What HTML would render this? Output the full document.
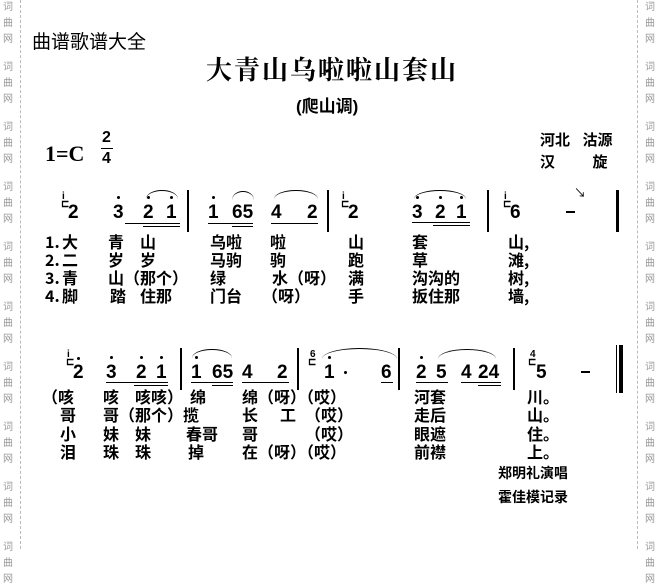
<!DOCTYPE html>
<html><head><meta charset="utf-8"><style>
body{margin:0;width:658px;height:549px;background:#fff;position:relative;overflow:hidden;font-family:"Liberation Sans","Noto Sans CJK SC",sans-serif;color:#000}
.a{position:absolute;white-space:nowrap;line-height:1}
.wm{position:absolute;font-size:10px;color:#999;line-height:16px;width:12px;text-align:center}
.dl{position:absolute;top:0;height:549px;border-left:1px dashed #bbb}
.n{position:absolute;font-weight:bold;font-size:19px;line-height:1;font-family:"Liberation Sans",sans-serif}
.g{position:absolute;font-weight:bold;font-size:10px;line-height:1}
.d{position:absolute;width:3px;height:3px;background:#000;border-radius:50%}
.bar{position:absolute;width:2px;background:#000}
.u{position:absolute;height:1px;background:#000}
.l{position:absolute;font-size:16px;line-height:1;white-space:nowrap;font-family:"Noto Sans CJK SC",sans-serif;font-weight:bold}
.arc{position:absolute;border-top:1.5px solid #000;border-radius:50%/100% 100% 0 0}
</style></head><body>
<div class="dl" style="left:20px"></div><div class="dl" style="left:637px"></div>
<div class="wm" style="left:2px;top:0">词<br>曲<br>网</div>
<div class="wm" style="left:2px;top:60px">词<br>曲<br>网</div>
<div class="wm" style="left:2px;top:120px">词<br>曲<br>网</div>
<div class="wm" style="left:2px;top:180px">词<br>曲<br>网</div>
<div class="wm" style="left:2px;top:240px">词<br>曲<br>网</div>
<div class="wm" style="left:2px;top:300px">词<br>曲<br>网</div>
<div class="wm" style="left:2px;top:360px">词<br>曲<br>网</div>
<div class="wm" style="left:2px;top:420px">词<br>曲<br>网</div>
<div class="wm" style="left:2px;top:480px">词<br>曲<br>网</div>
<div class="wm" style="left:2px;top:540px">词<br>曲<br>网</div>
<div class="wm" style="left:644px;top:0">词<br>曲<br>网</div>
<div class="wm" style="left:644px;top:60px">词<br>曲<br>网</div>
<div class="wm" style="left:644px;top:120px">词<br>曲<br>网</div>
<div class="wm" style="left:644px;top:180px">词<br>曲<br>网</div>
<div class="wm" style="left:644px;top:240px">词<br>曲<br>网</div>
<div class="wm" style="left:644px;top:300px">词<br>曲<br>网</div>
<div class="wm" style="left:644px;top:360px">词<br>曲<br>网</div>
<div class="wm" style="left:644px;top:420px">词<br>曲<br>网</div>
<div class="wm" style="left:644px;top:480px">词<br>曲<br>网</div>
<div class="wm" style="left:644px;top:540px">词<br>曲<br>网</div>

<div class="a" style="left:32px;top:33px;font-size:19px">曲谱歌谱大全</div>
<div class="a" style="left:206px;top:56px;font-size:26px;letter-spacing:2px;font-family:'Noto Serif CJK SC',serif;font-weight:bold">大青山乌啦啦山套山</div>
<div class="a" style="left:296px;top:98px;font-size:17px;font-weight:bold">(爬山调)</div>
<div class="a" style="left:45px;top:143px;font-size:22px;font-weight:bold;font-family:'Liberation Serif',serif">1=C</div>
<div class="n" style="left:102px;top:130px;font-size:16px">2</div>
<div class="u" style="left:101px;top:148px;width:12px"></div>
<div class="n" style="left:102px;top:151px;font-size:16px">4</div>
<div class="a" style="left:540px;top:133px;font-size:15px;font-weight:bold">河北&nbsp;&nbsp;&nbsp;沽源</div>
<div class="a" style="left:540px;top:155px;font-size:15px;font-weight:bold">汉&nbsp;&nbsp;&nbsp;&nbsp;&nbsp;&nbsp;&nbsp;&nbsp;&nbsp;旋</div>

<!-- row1 notes -->
<div class="g" style="left:62px;top:192px">i</div><div class="g" style="left:61px;top:200px">⊏</div>
<div class="n" style="left:68px;top:203px">2</div>
<div class="n" style="left:113px;top:203px">3</div><div class="d" style="left:117px;top:196px"></div>
<div class="n" style="left:143px;top:203px">2</div><div class="d" style="left:147px;top:196px"></div>
<div class="n" style="left:166px;top:203px">1</div><div class="d" style="left:170px;top:196px"></div>
<div class="arc" style="left:146px;top:190px;width:32px;height:8px"></div>
<div class="u" style="left:125px;top:223px;width:55px"></div><div class="u" style="left:143px;top:226px;width:37px"></div>
<div class="bar" style="left:187px;top:190px;height:42px"></div>
<div class="n" style="left:208px;top:203px">1</div><div class="d" style="left:212px;top:196px"></div>
<div class="n" style="left:232px;top:203px">65</div>
<div class="arc" style="left:232px;top:191px;width:22px;height:8px"></div>
<div class="u" style="left:208px;top:223px;width:45px"></div><div class="u" style="left:232px;top:226px;width:21px"></div>
<div class="n" style="left:271px;top:203px">4</div><div class="n" style="left:307px;top:203px">2</div>
<div class="arc" style="left:274px;top:190px;width:44px;height:8px"></div>
<div class="u" style="left:271px;top:223px;width:47px"></div>
<div class="bar" style="left:327px;top:190px;height:42px"></div>
<div class="g" style="left:342px;top:192px">i</div><div class="g" style="left:341px;top:200px">⊏</div>
<div class="n" style="left:348px;top:203px">2</div>
<div class="n" style="left:412px;top:203px">3</div><div class="d" style="left:416px;top:196px"></div>
<div class="n" style="left:435px;top:203px">2</div><div class="d" style="left:439px;top:196px"></div>
<div class="n" style="left:456px;top:203px">1</div><div class="d" style="left:460px;top:196px"></div>
<div class="arc" style="left:414px;top:190px;width:52px;height:8px"></div>
<div class="u" style="left:412px;top:222px;width:58px"></div><div class="u" style="left:433px;top:225px;width:37px"></div>
<div class="bar" style="left:487px;top:190px;height:42px"></div>
<div class="g" style="left:504px;top:192px">i</div><div class="g" style="left:503px;top:200px">⊏</div>
<div class="n" style="left:510px;top:203px">6</div>
<div class="u" style="left:566px;top:211px;width:9px;height:2px"></div>
<div class="a" style="left:574px;top:187px;font-size:12px">↘</div>
<div class="bar" style="left:616px;top:190px;height:42px;width:3px"></div>

<!-- row1 lyrics -->
<div class="l" style="left:45px;top:233px">1.</div><div class="l" style="left:62px;top:233px">大</div><div class="l" style="left:108px;top:233px">青</div><div class="l" style="left:140px;top:233px">山</div><div class="l" style="left:210px;top:233px">乌啦</div><div class="l" style="left:270px;top:233px">啦</div><div class="l" style="left:348px;top:233px">山</div><div class="l" style="left:412px;top:233px">套</div><div class="l" style="left:508px;top:233px">山,</div>
<div class="l" style="left:45px;top:251px">2.</div><div class="l" style="left:62px;top:251px">二</div><div class="l" style="left:108px;top:251px">岁</div><div class="l" style="left:140px;top:251px">岁</div><div class="l" style="left:210px;top:251px">马驹</div><div class="l" style="left:270px;top:251px">驹</div><div class="l" style="left:348px;top:251px">跑</div><div class="l" style="left:412px;top:251px">草</div><div class="l" style="left:508px;top:251px">滩,</div>
<div class="l" style="left:45px;top:269px">3.</div><div class="l" style="left:62px;top:269px">青</div><div class="l" style="left:108px;top:269px">山（那个）</div><div class="l" style="left:210px;top:269px">绿</div><div class="l" style="left:272px;top:269px">水（呀）</div><div class="l" style="left:348px;top:269px">满</div><div class="l" style="left:412px;top:269px">沟沟的</div><div class="l" style="left:508px;top:269px">树,</div>
<div class="l" style="left:45px;top:287px">4.</div><div class="l" style="left:62px;top:287px">脚</div><div class="l" style="left:110px;top:287px">踏</div><div class="l" style="left:140px;top:287px">住那</div><div class="l" style="left:210px;top:287px">门台</div><div class="l" style="left:262px;top:287px">（呀）</div><div class="l" style="left:348px;top:287px">手</div><div class="l" style="left:412px;top:287px">扳住那</div><div class="l" style="left:508px;top:287px">墙,</div>

<!-- row2 notes -->
<div class="g" style="left:67px;top:350px">i</div><div class="g" style="left:66px;top:358px">⊏</div>
<div class="n" style="left:73px;top:363px">2</div><div class="d" style="left:77px;top:357px"></div>
<div class="n" style="left:106px;top:363px">3</div><div class="d" style="left:110px;top:356px"></div>
<div class="n" style="left:136px;top:363px">2</div><div class="d" style="left:140px;top:356px"></div>
<div class="n" style="left:156px;top:363px">1</div><div class="d" style="left:160px;top:356px"></div>
<div class="u" style="left:106px;top:382px;width:62px"></div><div class="u" style="left:134px;top:385px;width:34px"></div>
<div class="bar" style="left:180px;top:348px;height:42px"></div>
<div class="n" style="left:191px;top:363px">1</div><div class="d" style="left:195px;top:356px"></div>
<div class="n" style="left:212px;top:363px">65</div>
<div class="arc" style="left:192px;top:349px;width:40px;height:8px"></div>
<div class="u" style="left:191px;top:382px;width:42px"></div><div class="u" style="left:212px;top:385px;width:21px"></div>
<div class="n" style="left:242px;top:363px">4</div><div class="n" style="left:277px;top:363px">2</div>
<div class="u" style="left:242px;top:382px;width:47px"></div>
<div class="bar" style="left:297px;top:348px;height:42px"></div>
<div class="g" style="left:310px;top:350px">6</div><div class="g" style="left:308px;top:358px">⊏</div>
<div class="n" style="left:324px;top:363px">1</div><div class="d" style="left:328px;top:356px"></div>
<div class="arc" style="left:322px;top:348px;width:75px;height:10px"></div>
<div class="d" style="left:344px;top:371px"></div>
<div class="n" style="left:381px;top:363px">6</div>
<div class="u" style="left:381px;top:382px;width:12px"></div>
<div class="bar" style="left:398px;top:348px;height:42px"></div>
<div class="n" style="left:416px;top:363px">2</div><div class="d" style="left:420px;top:356px"></div>
<div class="n" style="left:436px;top:363px">5</div>
<div class="arc" style="left:438px;top:349px;width:58px;height:9px"></div>
<div class="u" style="left:416px;top:382px;width:32px"></div>
<div class="n" style="left:461px;top:363px">4</div><div class="n" style="left:478px;top:363px">24</div>
<div class="u" style="left:461px;top:382px;width:40px"></div><div class="u" style="left:478px;top:385px;width:23px"></div>
<div class="bar" style="left:513px;top:348px;height:42px"></div>
<div class="g" style="left:530px;top:350px">4</div><div class="g" style="left:528px;top:358px">⊏</div>
<div class="n" style="left:536px;top:363px">5</div>
<div class="u" style="left:581px;top:371px;width:9px;height:2px"></div>
<div class="bar" style="left:616px;top:345px;height:48px;width:1px"></div>
<div class="bar" style="left:619px;top:345px;height:48px;width:4px"></div>

<!-- row2 lyrics -->
<div class="l" style="left:42px;top:388px">（咳</div><div class="l" style="left:103px;top:388px">咳</div><div class="l" style="left:135px;top:388px">咳咳）</div><div class="l" style="left:190px;top:388px">绵</div><div class="l" style="left:242px;top:388px">绵（呀）（哎）</div><div class="l" style="left:414px;top:388px">河套</div><div class="l" style="left:527px;top:388px">川。</div>
<div class="l" style="left:60px;top:406px">哥</div><div class="l" style="left:103px;top:406px">哥（那个）揽</div><div class="l" style="left:242px;top:406px">长</div><div class="l" style="left:280px;top:406px">工</div><div class="l" style="left:305px;top:406px">（哎）</div><div class="l" style="left:414px;top:406px">走后</div><div class="l" style="left:527px;top:406px">山。</div>
<div class="l" style="left:60px;top:425px">小</div><div class="l" style="left:103px;top:425px">妹</div><div class="l" style="left:135px;top:425px">妹</div><div class="l" style="left:186px;top:425px">春哥</div><div class="l" style="left:242px;top:425px">哥</div><div class="l" style="left:305px;top:425px">（哎）</div><div class="l" style="left:414px;top:425px">眼遮</div><div class="l" style="left:527px;top:425px">住。</div>
<div class="l" style="left:60px;top:443px">泪</div><div class="l" style="left:103px;top:443px">珠</div><div class="l" style="left:135px;top:443px">珠</div><div class="l" style="left:188px;top:443px">掉</div><div class="l" style="left:242px;top:443px">在（呀）（哎）</div><div class="l" style="left:414px;top:443px">前襟</div><div class="l" style="left:527px;top:443px">上。</div>

<div class="a" style="left:498px;top:466px;font-size:14px;font-weight:bold">郑明礼演唱</div>
<div class="a" style="left:498px;top:490px;font-size:14px;font-weight:bold">霍佳模记录</div>
</body></html>
